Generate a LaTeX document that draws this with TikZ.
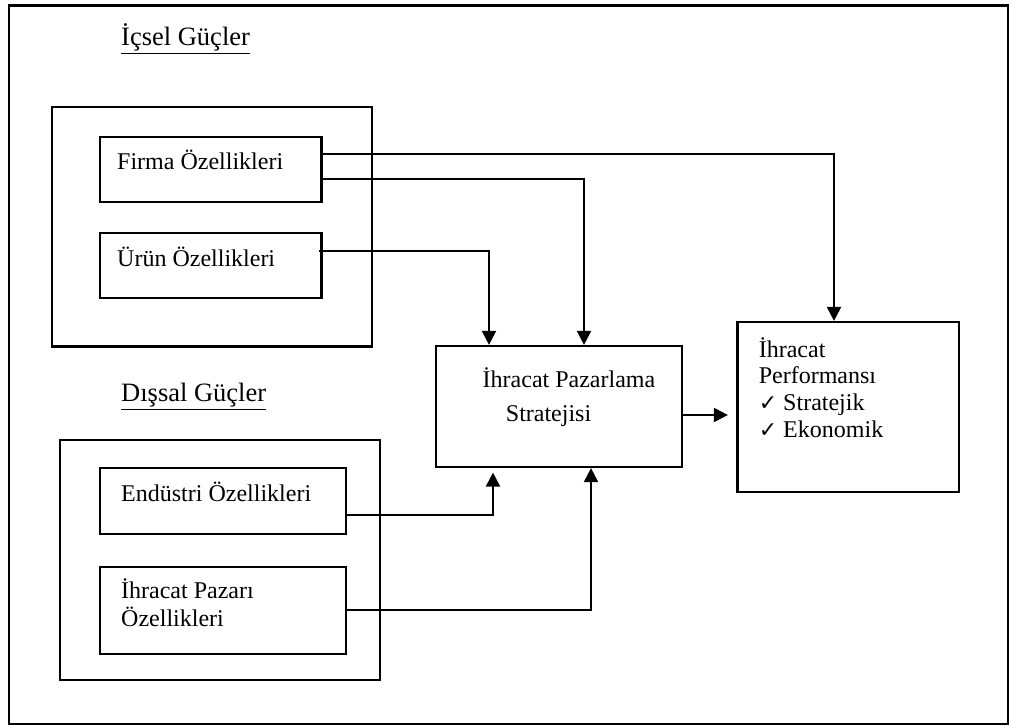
\documentclass[tikz,border=0pt]{standalone}
\usepackage{fontspec}
\setmainfont{Liberation Serif}
\newfontfamily\symfont{DejaVu Sans}
\usetikzlibrary{arrows.meta}
\newcommand{\tick}{{\symfont\fontsize{22}{25}\selectfont ✓}}
\begin{document}
\begin{tikzpicture}[x=1pt,y=-1pt,
  box/.style={draw,line width=2.2pt,rectangle,inner sep=0pt},
  lbl/.style={anchor=base west,inner sep=0pt,font=\fontsize{24}{27}\selectfont},
  head/.style={anchor=base west,inner sep=0pt,font=\fontsize{26.5}{30}\selectfont},
  link/.style={line width=2.1pt,-{Triangle[length=14pt,width=14pt]}}]
\useasboundingbox (0,0) rectangle (1009,727);
% outer frame
\draw[line width=2.2pt] (9,5.5) rectangle (1008,724);
% internal forces
\node[head] (ich) at (121,45.7) {\underline{İçsel Güçler}};
\node[box,minimum width=320pt,minimum height=239.5pt] (ic) at (212,226.75) {};
\node[box,minimum width=221.5pt,minimum height=65pt] (firma) at (210.75,169.5) {};
\node[lbl] (firmat) at (117,170) {Firma Özellikleri};
\node[box,minimum width=221.5pt,minimum height=65pt] (urun) at (210.75,265.5) {};
\node[lbl] (urunt) at (117,267) {Ürün Özellikleri};
% external forces
\node[head] (dish) at (121,401.7) {\underline{Dışsal Güçler}};
\node[box,minimum width=320pt,minimum height=240pt] (dis) at (220,560) {};
\node[box,minimum width=246.4pt,minimum height=66pt] (endustri) at (222.8,501) {};
\node[lbl] (endustrit) at (121,501.7) {Endüstri Özellikleri};
\node[box,minimum width=246.4pt,minimum height=87pt] (pazar) at (222.8,610.5) {};
\node[lbl] (pazart1) at (121,598) {İhracat Pazarı};
\node[lbl] (pazart2) at (121,626) {Özellikleri};
% strategy
\node[box,minimum width=246pt,minimum height=121pt] (strat) at (559,406.5) {};
\node[lbl] (stratt1) at (482.5,387) {İhracat Pazarlama};
\node[lbl] (stratt2) at (505.7,421) {Stratejisi};
% performance
\node[box,minimum width=221.5pt,minimum height=170pt] (perf) at (848.25,407) {};
\node[lbl] (perft1) at (758.6,357) {İhracat};
\node[lbl] (perft2) at (758.6,383) {Performansı};
\node[lbl] (perft3) at (758.6,410) {\tick\ Stratejik};
\node[lbl] (perft4) at (758.6,437) {\tick\ Ekonomik};
% connectors
\draw[link] (firma.east |- 0,154) -| (834,0 |- perf.north);
\draw[link] (firma.east |- 0,179) -| (584,0 |- strat.north);
\draw[link] ([xshift=-3.5pt]urun.east |- 0,250.7) -| (489,0 |- strat.north);
\draw[link,shorten >=8.5pt] (strat.east |- 0,415) -- (perf.west |- 0,415);
\draw[link,shorten >=4.5pt] (endustri.east |- 0,515) -| (493,0 |- strat.south);
\draw[link] (pazar.east |- 0,610) -| (591,0 |- strat.south);
\end{tikzpicture}
\end{document}
